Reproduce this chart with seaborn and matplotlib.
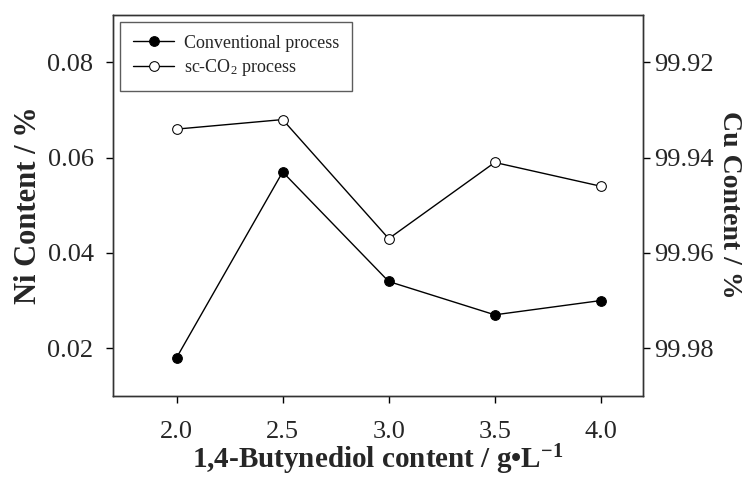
import matplotlib
matplotlib.use("Agg")
import matplotlib.pyplot as plt
import seaborn as sns

# 数据
bdo_content = [2.0, 2.5, 3.0, 3.5, 4.0]
ni_conventional = [0.018, 0.057, 0.034, 0.027, 0.030]
ni_sc_co2 = [0.066, 0.068, 0.043, 0.059, 0.054]
ni_ticks = [0.02, 0.04, 0.06, 0.08]
cu_ticks = [99.92, 99.94, 99.96, 99.98]

sns.set_style("ticks")
plt.rcParams["font.family"] = ["Liberation Serif", "DejaVu Serif"]
plt.rcParams["mathtext.fontset"] = "custom"
plt.rcParams["mathtext.rm"] = "Liberation Serif"
plt.rcParams["mathtext.bf"] = "Liberation Serif:bold"
plt.rcParams["mathtext.it"] = "Liberation Serif:italic"

fig = plt.figure(figsize=(7.48, 4.78), dpi=100)
ax = fig.add_axes([0.151, 0.172, 0.709, 0.797])

sns.lineplot(x=bdo_content, y=ni_conventional, ax=ax, color="black", linewidth=1,
             marker="o", markersize=7, markerfacecolor="black", markeredgecolor="black",
             label="Conventional process")
sns.lineplot(x=bdo_content, y=ni_sc_co2, ax=ax, color="black", linewidth=1,
             marker="o", markersize=7, markerfacecolor="white", markeredgecolor="black",
             label="sc-CO$_2$ process")

ax.set_xlim(1.7, 4.2)
ax.set_ylim(0.01, 0.09)
ax.set_xticks(bdo_content)
ax.set_xticklabels([f"{v:.1f}" for v in bdo_content])
ax.set_yticks(ni_ticks)
ax.set_yticklabels([f"{v:.2f}" for v in ni_ticks])
ax.tick_params(axis="both", labelsize=19, direction="out", length=5, width=1, color="black")
ax.tick_params(axis="x", pad=13)
ax.tick_params(axis="y", pad=9)
ax.set_xlabel("1,4-Butynediol content / g\u2022L$^{\\mathbf{-1}}$", fontsize=21,
              fontweight="bold", labelpad=0)
ax.set_ylabel("Ni Content / %", fontsize=22, fontweight="bold", labelpad=3)

# 右轴: Cu 含量（倒序）
ax2 = ax.twinx()
ax2.set_ylim(99.99, 99.91)
ax2.set_yticks(cu_ticks)
ax2.set_yticklabels([f"{v:.2f}" for v in cu_ticks])
ax2.tick_params(axis="y", labelsize=19, direction="out", length=5, width=1, color="black", pad=3)
ax2.set_ylabel("Cu Content / %", fontsize=20, fontweight="bold", rotation=270, labelpad=20)

for a in (ax, ax2):
    for s in a.spines.values():
        s.set_visible(True)
        s.set_linewidth(1)
        s.set_color("#333333")

leg = ax.legend(loc="upper left", fontsize=13, frameon=True, fancybox=False,
                edgecolor="#333333", borderaxespad=0.4, handlelength=2.3,
                handletextpad=0.55, labelspacing=0.3, borderpad=0.7)
leg.get_frame().set_linewidth(1)

fig.savefig("out.png", dpi=100)
